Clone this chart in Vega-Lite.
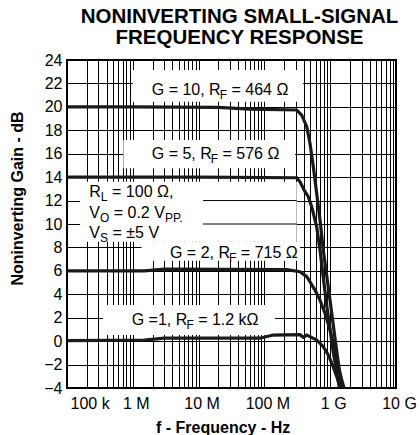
{
  "$schema": "https://vega.github.io/schema/vega-lite/v6.json",
  "width": 329,
  "height": 328,
  "autosize": {"type": "none"},
  "padding": {"left": 67, "top": 60, "right": 24, "bottom": 47},
  "background": "white",
  "title": {
    "text": ["NONINVERTING SMALL-SIGNAL", "FREQUENCY RESPONSE"],
    "font": "Liberation Sans", "fontSize": 20.5, "fontWeight": "bold", "color": "black",
    "anchor": "middle", "frame": "group", "dx": 8, "offset": 3, "lineHeight": 21.7
  },
  "config": {
    "font": "Liberation Sans",
    "view": {"stroke": "black", "strokeWidth": 2}
  },
  "datasets": {
    "curves": [
      {"g": "G=10", "f": 100000, "db": 20.0},
      {"g": "G=10", "f": 1000000, "db": 20.0},
      {"g": "G=10", "f": 20000000, "db": 19.95},
      {"g": "G=10", "f": 60000000, "db": 19.8},
      {"g": "G=10", "f": 310000000, "db": 19.73},
      {"g": "G=10", "f": 369000000, "db": 19.3},
      {"g": "G=10", "f": 440000000, "db": 18.31},
      {"g": "G=10", "f": 493000000, "db": 16.89},
      {"g": "G=10", "f": 554000000, "db": 14.89},
      {"g": "G=10", "f": 623000000, "db": 12.62},
      {"g": "G=10", "f": 700000000, "db": 10.34},
      {"g": "G=10", "f": 785000000, "db": 7.78},
      {"g": "G=10", "f": 993000000, "db": 3.51},
      {"g": "G=10", "f": 1220000000, "db": -0.33},
      {"g": "G=10", "f": 1500000000, "db": -4.0},
      {"g": "G=5", "f": 100000, "db": 14.0},
      {"g": "G=5", "f": 10000000, "db": 14.0},
      {"g": "G=5", "f": 310000000, "db": 13.95},
      {"g": "G=5", "f": 347000000, "db": 13.61},
      {"g": "G=5", "f": 414000000, "db": 12.76},
      {"g": "G=5", "f": 465000000, "db": 12.33},
      {"g": "G=5", "f": 523000000, "db": 11.48},
      {"g": "G=5", "f": 623000000, "db": 9.77},
      {"g": "G=5", "f": 700000000, "db": 7.78},
      {"g": "G=5", "f": 863000000, "db": 3.51},
      {"g": "G=5", "f": 1100000000, "db": -0.76},
      {"g": "G=5", "f": 1380000000, "db": -4.0},
      {"g": "G=2", "f": 100000, "db": 6.0},
      {"g": "G=2", "f": 1500000, "db": 6.0},
      {"g": "G=2", "f": 3000000, "db": 6.15},
      {"g": "G=2", "f": 218000000, "db": 6.1},
      {"g": "G=2", "f": 347000000, "db": 5.93},
      {"g": "G=2", "f": 440000000, "db": 5.5},
      {"g": "G=2", "f": 493000000, "db": 5.07},
      {"g": "G=2", "f": 587000000, "db": 4.36},
      {"g": "G=2", "f": 700000000, "db": 3.51},
      {"g": "G=2", "f": 834000000, "db": 2.38},
      {"g": "G=2", "f": 993000000, "db": 0.95},
      {"g": "G=2", "f": 1180000000, "db": -0.76},
      {"g": "G=2", "f": 1330000000, "db": -2.18},
      {"g": "G=2", "f": 1500000000, "db": -3.32},
      {"g": "G=2", "f": 1620000000, "db": -4.0},
      {"g": "G=1", "f": 100000, "db": 0.05},
      {"g": "G=1", "f": 1500000, "db": 0.08},
      {"g": "G=1", "f": 3000000, "db": 0.25},
      {"g": "G=1", "f": 85700000, "db": 0.25},
      {"g": "G=1", "f": 135000000, "db": 0.52},
      {"g": "G=1", "f": 347000000, "db": 0.55},
      {"g": "G=1", "f": 390000000, "db": 0.33},
      {"g": "G=1", "f": 440000000, "db": 0.52},
      {"g": "G=1", "f": 493000000, "db": 0.38},
      {"g": "G=1", "f": 623000000, "db": 0.1},
      {"g": "G=1", "f": 785000000, "db": -0.47},
      {"g": "G=1", "f": 935000000, "db": -1.18},
      {"g": "G=1", "f": 1110000000, "db": -2.18},
      {"g": "G=1", "f": 1260000000, "db": -3.04},
      {"g": "G=1", "f": 1410000000, "db": -3.89},
      {"g": "G=1", "f": 1440000000, "db": -4.0}
    ],
    "masks": [
      {"f": 1000000, "f2": 386000000, "db": 23.15, "db2": 20.44},
      {"f": 718000, "f2": 292000000, "db": 17.17, "db2": 14.75},
      {"f": 158000, "f2": 310000000, "db": 13.61, "db2": 8.49},
      {"f": 1360000, "f2": 347000000, "db": 8.49, "db2": 6.87},
      {"f": 353000, "f2": 145000000, "db": 3.08, "db2": 0.52}
    ],
    "gridbits": [
      {"f": 11700000, "f2": 310000000, "db": 12},
      {"f": 11700000, "f2": 310000000, "db": 10}
    ],
    "labels": [
      {"f": 1940000, "db": 21.01, "t": "G = 10, R"},
      {"f": 31600000, "db": 21.01, "t": "= 464 Ω"},
      {"f": 1940000, "db": 15.55, "t": "G = 5, R"},
      {"f": 23100000, "db": 15.55, "t": "= 576 Ω"},
      {"f": 218000, "db": 12.33, "t": "R"},
      {"f": 484000, "db": 12.33, "t": "= 100 Ω,"},
      {"f": 218000, "db": 10.49, "t": "V"},
      {"f": 513000, "db": 10.49, "t": "= 0.2 V"},
      {"f": 218000, "db": 8.78, "t": "V"},
      {"f": 491000, "db": 8.78, "t": "= ±5 V"},
      {"f": 3670000, "db": 7.07, "t": "G = 2, R"},
      {"f": 43900000, "db": 7.07, "t": "= 715 Ω"},
      {"f": 962000, "db": 1.38, "t": "G =1, R"},
      {"f": 9840000, "db": 1.38, "t": "= 1.2 kΩ"}
    ],
    "subs": [
      {"f": 20900000, "db": 21.01, "t": "F"},
      {"f": 15300000, "db": 15.55, "t": "F"},
      {"f": 327000, "db": 12.33, "t": "L"},
      {"f": 318000, "db": 10.49, "t": "O"},
      {"f": 3080000, "db": 10.49, "t": "PP."},
      {"f": 318000, "db": 8.78, "t": "S"},
      {"f": 29100000, "db": 7.07, "t": "F"},
      {"f": 6530000, "db": 1.38, "t": "F"}
    ]
  },
  "encoding": {
    "x": {
      "field": "f", "type": "quantitative",
      "scale": {"type": "log", "domain": [100000, 10000000000], "nice": false},
      "axis": {
        "title": "f - Frequency  - Hz",
        "titleFont": "Liberation Sans", "titleFontSize": 16, "titleFontWeight": "bold", "titleColor": "black",
        "titleBaseline": "alphabetic", "titleX": 155.6, "titleY": 44, "titleAlign": "center",
        "values": [100000, 200000, 300000, 400000, 500000, 600000, 700000, 800000, 900000,
                   1000000, 2000000, 3000000, 4000000, 5000000, 6000000, 7000000, 8000000, 9000000,
                   10000000, 20000000, 30000000, 40000000, 50000000, 60000000, 70000000, 80000000, 90000000,
                   100000000, 200000000, 300000000, 400000000, 500000000, 600000000, 700000000, 800000000, 900000000,
                   1000000000, 2000000000, 3000000000, 4000000000, 5000000000, 6000000000, 7000000000, 8000000000, 9000000000,
                   10000000000],
        "labelExpr": "datum.value == 100000 ? '100 k' : datum.value == 1000000 ? '1 M' : datum.value == 10000000 ? '10 M' : datum.value == 100000000 ? '100 M' : datum.value == 1000000000 ? '1 G' : datum.value == 10000000000 ? '10 G' : ''",
        "labelAlign": {"condition": {"test": "datum.value == 100000", "value": "left"}, "value": "center"},
        "labelOffset": 3,
        "labelFont": "Liberation Sans", "labelFontSize": 16, "labelColor": "black",
        "labelBaseline": "alphabetic", "labelPadding": 20,
        "labelOverlap": false, "labelFlush": false, "labelBound": false,
        "ticks": false, "tickSize": 0, "domain": false,
        "grid": true, "gridColor": "black", "gridWidth": 1, "gridOpacity": 1
      }
    },
    "y": {
      "field": "db", "type": "quantitative",
      "scale": {"domain": [-4, 24], "nice": false, "zero": false},
      "axis": {
        "title": "Noninverting Gain - dB",
        "titleFont": "Liberation Sans", "titleFontSize": 16, "titleFontWeight": "bold", "titleColor": "black",
        "titleBaseline": "alphabetic", "titleX": -44.3, "titleY": 138, "titleAlign": "center", "titleAngle": -90,
        "values": [-4, -2, 0, 2, 4, 6, 8, 10, 12, 14, 16, 18, 20, 22, 24],
        "labelFont": "Liberation Sans", "labelFontSize": 16, "labelColor": "black",
        "labelPadding": 5, "labelOverlap": false, "labelFlush": false, "labelBound": false,
        "ticks": false, "tickSize": 0, "domain": false,
        "grid": true, "gridColor": "black", "gridWidth": 1, "gridOpacity": 1
      }
    }
  },
  "layer": [
    {
      "data": {"name": "masks"},
      "mark": {"type": "rect", "fill": "white", "stroke": null},
      "encoding": {"x2": {"field": "f2"}, "y2": {"field": "db2"}}
    },
    {
      "data": {"name": "gridbits"},
      "mark": {"type": "rule", "color": "black", "strokeWidth": 1},
      "encoding": {"x2": {"field": "f2"}}
    },
    {
      "data": {"name": "curves"},
      "mark": {"type": "line", "color": "#1a1a1a", "strokeWidth": 3.2, "clip": true},
      "encoding": {"detail": {"field": "g"}}
    },
    {
      "data": {"name": "labels"},
      "mark": {"type": "text", "align": "left", "baseline": "alphabetic", "fontSize": 16, "font": "Liberation Sans", "color": "black"},
      "encoding": {"text": {"field": "t"}}
    },
    {
      "data": {"name": "subs"},
      "mark": {"type": "text", "align": "left", "baseline": "alphabetic", "fontSize": 12, "dy": 4, "font": "Liberation Sans", "color": "black"},
      "encoding": {"text": {"field": "t"}}
    }
  ]
}
